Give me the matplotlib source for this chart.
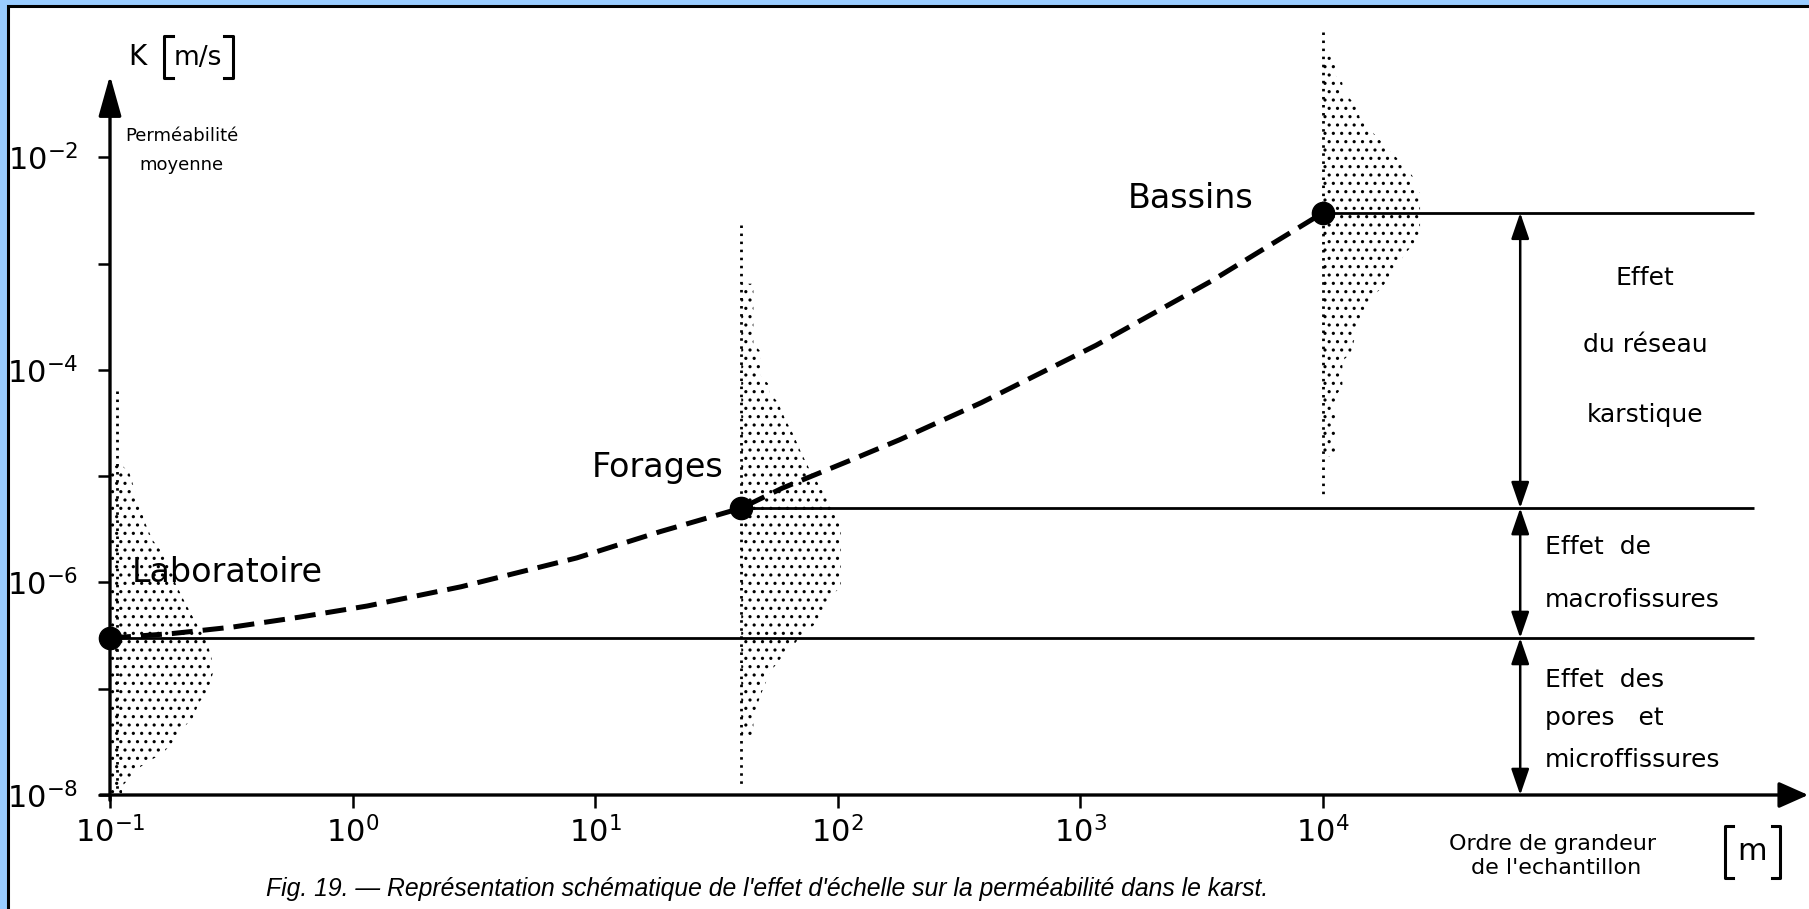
import matplotlib
matplotlib.use("Agg")
import matplotlib.pyplot as plt
from matplotlib.lines import Line2D
from matplotlib.patches import Rectangle

# sites (sample size in m, mean permeability in m/s)
sites = ["Laboratoire", "Forages", "Bassins"]
site_size = [0.1, 40, 1e4]
site_k = [3e-7, 5e-6, 3e-3]

# dashed trend curve
curve_size = [0.1, 0.18, 0.32, 0.6, 1.15, 2.8, 8.4, 18.5, 40, 59, 112, 180,
              390, 1160, 3450, 6650, 1e4]
curve_k = [3.0e-7, 3.3e-7, 3.8e-7, 4.7e-7, 6.0e-7, 9.1e-7, 1.7e-6, 3.0e-6,
           5.0e-6, 7.7e-6, 1.4e-5, 2.2e-5, 4.9e-5, 1.7e-4, 6.8e-4, 1.7e-3, 3.0e-3]

# stippled distributions: log10(K) and width (in decades of sample size)
lab_logk = [-4.9, -4.97, -5.19, -5.44, -5.60, -5.82, -6.01, -6.17, -6.32, -6.56,
            -6.81, -7.04, -7.12, -7.28, -7.36, -7.45, -7.53, -7.61, -7.69, -7.76,
            -7.84, -7.92, -8.0]
lab_w = [0.05, 0.08, 0.11, 0.145, 0.175, 0.25, 0.27, 0.305, 0.34, 0.40, 0.43,
         0.40, 0.37, 0.34, 0.305, 0.275, 0.25, 0.215, 0.155, 0.11, 0.08, 0.05, 0.05]
lab_tail = [-4.2, -8.0]

for_logk = [-3.19, -3.75, -3.83, -4.06, -4.14, -4.22, -4.30, -4.46, -4.61, -4.77,
            -4.93, -5.16, -5.32, -5.48, -6.04, -6.12, -6.26, -6.38, -6.51, -6.59,
            -6.67, -6.75, -6.86, -7.06, -7.26, -7.45]
for_w = [0.05, 0.05, 0.08, 0.08, 0.115, 0.115, 0.15, 0.18, 0.215, 0.245, 0.28,
         0.34, 0.375, 0.41, 0.41, 0.375, 0.34, 0.31, 0.245, 0.215, 0.18, 0.15,
         0.115, 0.08, 0.05, 0.05]
for_tail = [-2.64, -7.93]

bas_logk = [-1.05, -1.23, -1.30, -1.38, -1.46, -1.54, -1.62, -1.70, -1.78, -1.85,
            -1.93, -2.02, -2.10, -2.18, -2.26, -2.34, -2.75, -2.83, -2.90, -3.01,
            -3.12, -3.22, -3.30, -3.41, -3.53, -3.84, -3.92, -4.16, -4.25, -4.82]
bas_w = [0.05, 0.05, 0.08, 0.08, 0.115, 0.15, 0.15, 0.18, 0.21, 0.24, 0.27, 0.31,
         0.34, 0.37, 0.37, 0.40, 0.40, 0.37, 0.34, 0.31, 0.275, 0.245, 0.21, 0.18,
         0.15, 0.115, 0.08, 0.08, 0.05, 0.05]
bas_tail = [-0.82, -5.22]

x_ticks = [0.1, 1, 10, 100, 1000, 1e4]
x_labels = ["$10^{-1}$", "$10^{0}$", "$10^{1}$", "$10^{2}$", "$10^{3}$", "$10^{4}$"]
y_ticks = [1e-8, 1e-7, 1e-6, 1e-5, 1e-4, 1e-3, 1e-2]
y_labels = ["$10^{-8}$", "", "$10^{-6}$", "", "$10^{-4}$", "", "$10^{-2}$"]

arrow_x = 6.5e4
line_end = 6e5

W, H = 1809, 909
plt.rcParams["font.family"] = ["DejaVu Sans"]
plt.rcParams["mathtext.fontset"] = "dejavusans"
plt.rcParams["hatch.linewidth"] = 1.1
plt.rcParams["hatch.color"] = "black"


def fx(x):
    return x / W


def fy(y):
    return 1 - y / H


fig = plt.figure(figsize=(W / 100, H / 100), dpi=100, facecolor="#99ccff")
fig.add_artist(Rectangle((fx(8), -0.1), 1.0, 1.1 - 6 / H, transform=fig.transFigure,
                         facecolor="white", edgecolor="black", lw=2.2, zorder=-1))

ax = fig.add_axes([fx(110), (H - 795) / H, (W - 110) / W, 795 / H])
ax.set_xscale("log")
ax.set_yscale("log")
ax.set_xlim(0.1, 10 ** (-1 + (W - 110) / 242.6))
ax.set_ylim(1e-8, 10 ** (-8 + 795 / 106.3))
ax.patch.set_alpha(0)
for s in ax.spines.values():
    s.set_visible(False)

ax.set_xticks(x_ticks)
ax.set_xticklabels(x_labels)
ax.set_yticks(y_ticks)
ax.set_yticklabels(y_labels)
ax.xaxis.set_minor_locator(matplotlib.ticker.NullLocator())
ax.yaxis.set_minor_locator(matplotlib.ticker.NullLocator())
ax.tick_params(which="major", direction="out", length=9, width=1.8, color="black")
ax.tick_params(axis="y", pad=14, labelsize=22)
ax.tick_params(axis="x", pad=6, labelsize=22)

# axes with arrow heads
ax.annotate("", xy=(0.1, 10 ** -1.23), xytext=(0.1, 10 ** -8.05),
            arrowprops=dict(arrowstyle="-|>,head_length=2.5,head_width=0.7",
                            color="black", lw=2.4, shrinkA=0, shrinkB=0,
                            mutation_scale=10), annotation_clip=False)
ax.annotate("", xy=(1e6, 1e-8), xytext=(10 ** -1.04, 1e-8),
            arrowprops=dict(arrowstyle="-|>,head_length=1.8,head_width=0.8",
                            color="black", lw=2.4, shrinkA=0, shrinkB=0,
                            mutation_scale=10), annotation_clip=False)

# stippled distributions
for x0, lk, w, tail, tx in [(site_size[0], lab_logk, lab_w, lab_tail, 0.107),
                            (site_size[1], for_logk, for_w, for_tail, site_size[1]),
                            (site_size[2], bas_logk, bas_w, bas_tail, site_size[2])]:
    kk = [10 ** v for v in lk]
    right = [x0 * 10 ** v for v in w]
    ax.fill_betweenx(kk, x0, right, hatch="..", facecolor="none",
                     edgecolor="black", lw=0, clip_on=False)
    ax.plot([tx, tx], [10 ** tail[0], 10 ** tail[1]], color="black", lw=2.0,
            ls=(0, (0.9, 2.0)), dash_capstyle="butt", clip_on=False)

# horizontal levels
for x0, k in zip(site_size, site_k):
    ax.plot([x0, line_end], [k, k], color="black", lw=2.0, solid_capstyle="butt")

# double arrows
levels = [site_k[2], site_k[1], site_k[0], 1e-8]
for k_top, k_bot in zip(levels[:-1], levels[1:]):
    ax.annotate("", xy=(arrow_x, k_bot), xytext=(arrow_x, k_top),
                arrowprops=dict(arrowstyle="<|-|>,head_length=1.6,head_width=0.55",
                                color="black", lw=1.8, shrinkA=0, shrinkB=0,
                                mutation_scale=10))

# trend curve and points
ax.plot(curve_size, curve_k, color="black", lw=3.6, ls=(0, (4.2, 2)),
        dash_capstyle="butt", clip_on=False)
ax.plot(site_size, site_k, "o", color="black", ms=16, clip_on=False, zorder=5)

# labels
fig.text(fx(132), fy(582), sites[0], fontsize=24, ha="left", va="baseline")
fig.text(fx(592), fy(477), sites[1], fontsize=24, ha="left", va="baseline")
fig.text(fx(1128), fy(208), sites[2], fontsize=24, ha="left", va="baseline")

fig.text(fx(137), fy(57), "K", fontsize=20, ha="center", va="center")
fig.text(fx(198), fy(58), "m/s", fontsize=19, ha="center", va="center")
fig.text(fx(182), fy(136), "Perméabilité", fontsize=13, ha="center", va="center")
fig.text(fx(181), fy(165), "moyenne", fontsize=13, ha="center", va="center")


def bracket(x, y0, y1, serif):
    fig.add_artist(Line2D([fx(x + serif), fx(x), fx(x), fx(x + serif)],
                          [fy(y0), fy(y0), fy(y1), fy(y1)],
                          transform=fig.transFigure, color="black", lw=2.2))


bracket(164, 36, 78, 9)
bracket(233, 36, 78, -9)
bracket(1725, 826, 878, 8)
bracket(1780, 826, 878, -8)
fig.text(fx(1752), fy(852), "m", fontsize=22, ha="center", va="center")

for txt, y in [("Effet", 278), ("du réseau", 345), ("karstique", 415)]:
    fig.text(fx(1645), fy(y), txt, fontsize=18, ha="center", va="center")
for txt, y in [("Effet  de", 547), ("macrofissures", 600), ("Effet  des", 680),
               ("pores   et", 718), ("microffissures", 760)]:
    fig.text(fx(1545), fy(y), txt, fontsize=18, ha="left", va="center")

fig.text(fx(1553), fy(844), "Ordre de grandeur", fontsize=16, ha="center", va="center")
fig.text(fx(1556), fy(868), "de l'echantillon", fontsize=16, ha="center", va="center")

fig.text(fx(767), fy(889),
         "Fig. 19. — Représentation schématique de l'effet d'échelle sur la "
         "perméabilité dans le karst.",
         fontsize=17.8, family=["Liberation Sans", "DejaVu Sans"], style="italic",
         ha="center", va="center")

fig.savefig("out.png", dpi=100, facecolor=fig.get_facecolor())
